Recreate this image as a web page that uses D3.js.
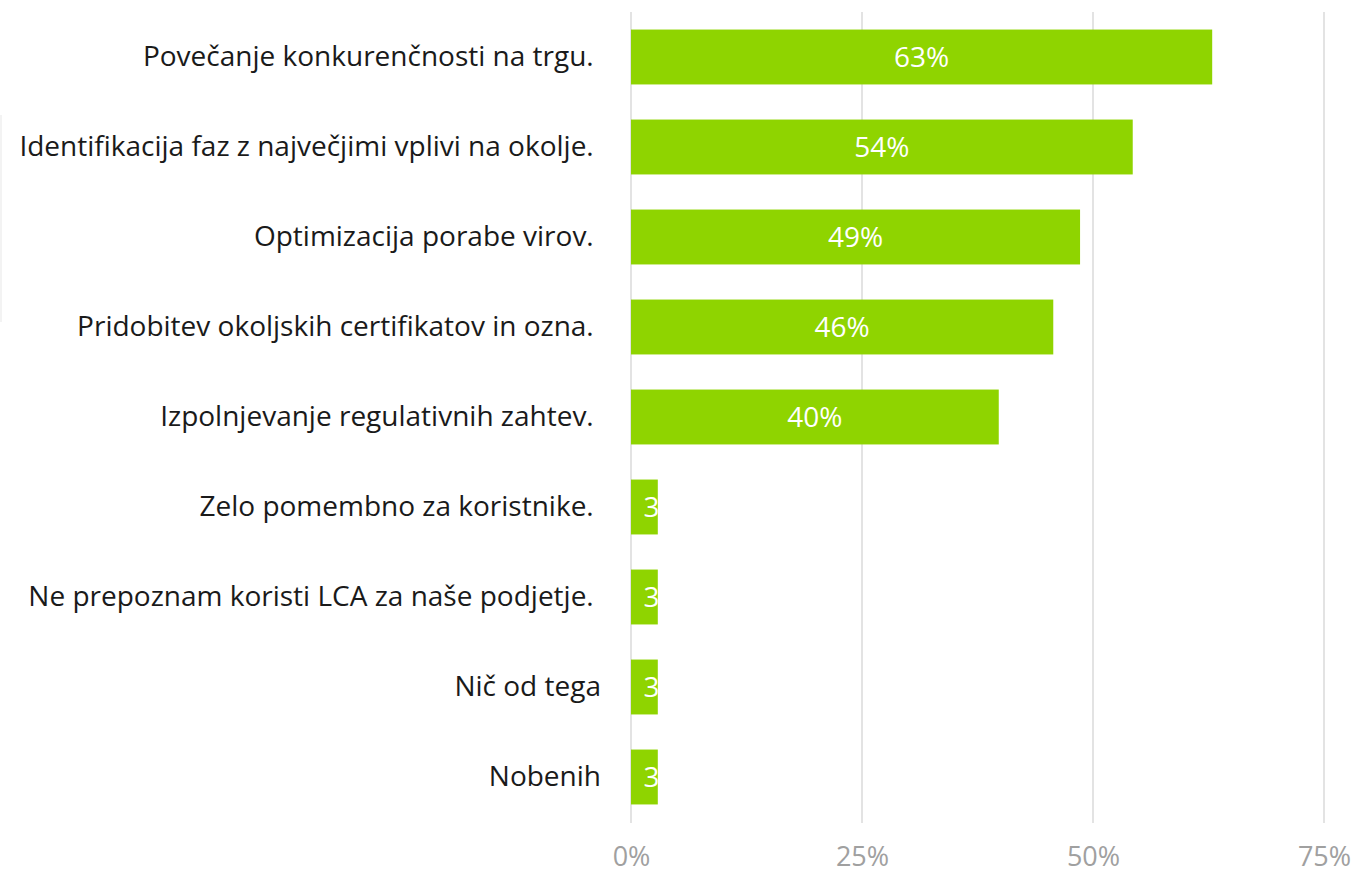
<!DOCTYPE html>
<html>
<head>
<meta charset="utf-8">
<script src="https://cdn.jsdelivr.net/npm/d3@7"></script>
<style>
  html, body { margin: 0; padding: 0; background: #fff; }
  svg { display: block; font-family: "Open Sans", sans-serif; }
  .cat { white-space: pre; }
</style>
</head>
<body>
<svg id="chart" width="1358" height="875"></svg>
<script>
const categories = [
  "Povečanje konkurenčnosti na trgu. ",
  "Identifikacija faz z največjimi vplivi na okolje. ",
  "Optimizacija porabe virov. ",
  "Pridobitev okoljskih certifikatov in ozna. ",
  "Izpolnjevanje regulativnih zahtev. ",
  "Zelo pomembno za koristnike. ",
  "Ne prepoznam koristi LCA za naše podjetje. ",
  "Nič od tega",
  "Nobenih"
];
const values = [62.9, 54.3, 48.6, 45.7, 39.8, 2.9, 2.9, 2.9, 2.9];
const tickValues = [0, 25, 50, 75];
const tickLabels = ["0%", "25%", "50%", "75%"];

const FONT = "'Open Sans', sans-serif";
const svg = d3.select("#chart");
const x = d3.scaleLinear().domain([0, 75]).range([631, 1324]);
const y = d3.scaleBand().domain(categories).range([12, 822]).paddingInner(0.39).paddingOuter(0.195);

// faint artifact line at far left
svg.append("line").attr("x1", 1).attr("x2", 1).attr("y1", 115).attr("y2", 322)
  .attr("stroke", "#efefef").attr("stroke-width", 1.5);

// gridlines
svg.append("g").selectAll("line").data(tickValues).join("line")
  .attr("x1", d => x(d)).attr("x2", d => x(d))
  .attr("y1", 12).attr("y2", 823)
  .attr("stroke", "#e3e3e3").attr("stroke-width", 2);

// x tick labels
const xAxis = d3.axisBottom(x).tickValues(tickValues).tickFormat((d, i) => tickLabels[i]).tickSize(0).tickPadding(0);
const gx = svg.append("g").attr("transform", "translate(0,847)").call(xAxis);
gx.select(".domain").remove();
gx.selectAll("text").attr("fill", "#a0a0a0").attr("font-size", 27).attr("font-family", FONT).attr("dy", "0.71em");

// category labels
const yAxis = d3.axisLeft(y).tickSize(0).tickPadding(0);
const gy = svg.append("g").attr("transform", "translate(601,0)").call(yAxis);
gy.select(".domain").remove();
gy.selectAll("text").attr("class", "cat").attr("fill", "#1a1a1a").attr("font-size", 28).attr("font-family", FONT);

// bars
const defs = svg.append("defs");
defs.selectAll("clipPath").data(values).join("clipPath")
  .attr("id", (d, i) => "clip" + i)
  .append("rect")
  .attr("x", x(0)).attr("y", (d, i) => y(categories[i]))
  .attr("width", d => x(d) - x(0)).attr("height", y.bandwidth());

svg.append("g").selectAll("rect").data(values).join("rect")
  .attr("x", x(0)).attr("y", (d, i) => y(categories[i]))
  .attr("width", d => x(d) - x(0)).attr("height", y.bandwidth())
  .attr("fill", "#8fd400");

svg.append("g").selectAll("text").data(values).join("text")
  .attr("clip-path", (d, i) => "url(#clip" + i + ")")
  .attr("x", d => (x(d) + x(0)) / 2 - ((x(d) - x(0)) > 60 ? 0 : 1))
  .attr("y", (d, i) => y(categories[i]) + y.bandwidth() / 2)
  .attr("dy", "0.36em")
  .attr("text-anchor", d => (x(d) - x(0)) > 60 ? "middle" : "start")
  .attr("fill", "#ffffff").attr("font-size", 28).attr("font-family", FONT)
  .text(d => Math.round(d) + "%");
</script>
</body>
</html>
